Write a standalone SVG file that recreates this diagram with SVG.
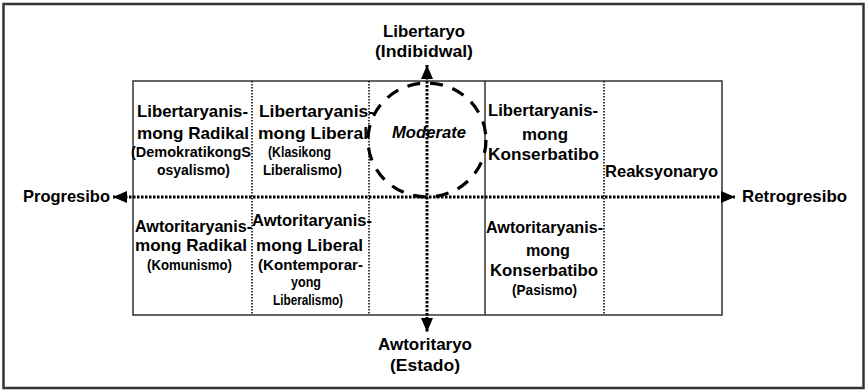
<svg xmlns="http://www.w3.org/2000/svg" width="867" height="391" viewBox="0 0 867 391">
  <style>
    text { font-family: "Liberation Sans", Arial, sans-serif; font-weight: bold; fill: #000; }
    .big { font-size: 16.5px; }
    .small { font-size: 14.5px; }
    .it { font-style: italic; }
    .grid { stroke: #333; stroke-width: 1.5; fill: none; }
    .sep { stroke: #000; stroke-width: 1.5; stroke-dasharray: 1.5 1.5; fill: none; }
    .axis { stroke: #000; stroke-width: 3; stroke-dasharray: 2.5 1.5; fill: none; }
    .moderate { stroke: #000; stroke-width: 3.2; stroke-dasharray: 13 10; fill: none; }
  </style>
  <defs>
    <marker id="arrow" viewBox="0 0 14 12" refX="14" refY="6" markerWidth="14" markerHeight="12" markerUnits="userSpaceOnUse" orient="auto-start-reverse">
      <path d="M0,0 L14,6 L0,12 z" fill="#000"/>
    </marker>
  </defs>

  <rect x="3.5" y="4" width="860" height="384" fill="#fff" stroke="#333" stroke-width="2.5"/>

  <g id="grid">
    <rect class="grid" x="133" y="81" width="589" height="234"/>
    <line class="grid" x1="485" y1="81" x2="485" y2="315"/>
    <line class="sep" x1="252" y1="81" x2="252" y2="315"/>
    <line class="sep" x1="369" y1="81" x2="369" y2="315"/>
    <line class="sep" x1="604" y1="81" x2="604" y2="315"/>
  </g>

  <g id="moderate">
    <ellipse class="moderate" cx="427" cy="140" rx="59" ry="57"/>
    <text class="big it" x="392" y="138" textLength="74" lengthAdjust="spacingAndGlyphs">Moderate</text>
  </g>

  <g id="connectors">
    <line class="axis" x1="113" y1="197" x2="735" y2="197" marker-start="url(#arrow)" marker-end="url(#arrow)"/>
    <line class="axis" x1="427" y1="65" x2="427" y2="332" marker-start="url(#arrow)" marker-end="url(#arrow)"/>
  </g>

  <g id="libertaryo">
    <text class="big" x="383" y="37" textLength="82" lengthAdjust="spacingAndGlyphs">Libertaryo</text>
    <text class="big" x="375" y="57" textLength="98" lengthAdjust="spacingAndGlyphs">(Indibidwal)</text>
  </g>
  <g id="awtoritaryo">
    <text class="big" x="378" y="350" textLength="94" lengthAdjust="spacingAndGlyphs">Awtoritaryo</text>
    <text class="big" x="390" y="371" textLength="70" lengthAdjust="spacingAndGlyphs">(Estado)</text>
  </g>
  <g id="progresibo">
    <text class="big" x="23" y="202" textLength="87" lengthAdjust="spacingAndGlyphs">Progresibo</text>
  </g>
  <g id="retrogresibo">
    <text class="big" x="742" y="202" textLength="105" lengthAdjust="spacingAndGlyphs">Retrogresibo</text>
  </g>

  <g id="lib-radikal">
    <text class="big" x="137" y="117" textLength="111" lengthAdjust="spacingAndGlyphs">Libertaryanis-</text>
    <text class="big" x="137" y="139" textLength="112" lengthAdjust="spacingAndGlyphs">mong Radikal</text>
    <text class="small" x="131" y="157" textLength="120" lengthAdjust="spacingAndGlyphs">(DemokratikongS</text>
    <text class="small" x="157" y="175" textLength="73" lengthAdjust="spacingAndGlyphs">osyalismo)</text>
  </g>
  <g id="lib-liberal">
    <text class="big" x="259" y="117" textLength="115" lengthAdjust="spacingAndGlyphs">Libertaryanis-</text>
    <text class="big" x="258" y="139" textLength="110" lengthAdjust="spacingAndGlyphs">mong Liberal</text>
    <text class="small" x="268" y="157" textLength="63" lengthAdjust="spacingAndGlyphs">(Klasikong</text>
    <text class="small" x="263" y="175" textLength="79" lengthAdjust="spacingAndGlyphs">Liberalismo)</text>
  </g>
  <g id="lib-konserbatibo">
    <text class="big" x="488" y="116" textLength="110" lengthAdjust="spacingAndGlyphs">Libertaryanis-</text>
    <text class="big" x="522" y="140" textLength="46" lengthAdjust="spacingAndGlyphs">mong</text>
    <text class="big" x="488" y="160" textLength="111" lengthAdjust="spacingAndGlyphs">Konserbatibo</text>
  </g>
  <g id="reaksyonaryo">
    <text class="big" x="605" y="177" textLength="113" lengthAdjust="spacingAndGlyphs">Reaksyonaryo</text>
  </g>

  <g id="awt-radikal">
    <text class="big" x="135" y="232" textLength="117" lengthAdjust="spacingAndGlyphs">Awtoritaryanis-</text>
    <text class="big" x="135" y="251" textLength="112" lengthAdjust="spacingAndGlyphs">mong Radikal</text>
    <text class="small" x="147" y="270" textLength="85" lengthAdjust="spacingAndGlyphs">(Komunismo)</text>
  </g>
  <g id="awt-liberal">
    <text class="big" x="252" y="226" textLength="120" lengthAdjust="spacingAndGlyphs">Awtoritaryanis-</text>
    <text class="big" x="256" y="251" textLength="107" lengthAdjust="spacingAndGlyphs">mong Liberal</text>
    <text class="small" x="258" y="270" textLength="105" lengthAdjust="spacingAndGlyphs">(Kontemporar-</text>
    <text class="small" x="291" y="287" textLength="30" lengthAdjust="spacingAndGlyphs">yong</text>
    <text class="small" x="273" y="305" textLength="70" lengthAdjust="spacingAndGlyphs">Liberalismo)</text>
  </g>
  <g id="awt-konserbatibo">
    <text class="big" x="486" y="233" textLength="117" lengthAdjust="spacingAndGlyphs">Awtoritaryanis-</text>
    <text class="big" x="526" y="256" textLength="44" lengthAdjust="spacingAndGlyphs">mong</text>
    <text class="big" x="490" y="276" textLength="108" lengthAdjust="spacingAndGlyphs">Konserbatibo</text>
    <text class="small" x="512" y="295" textLength="65" lengthAdjust="spacingAndGlyphs">(Pasismo)</text>
  </g>
</svg>
